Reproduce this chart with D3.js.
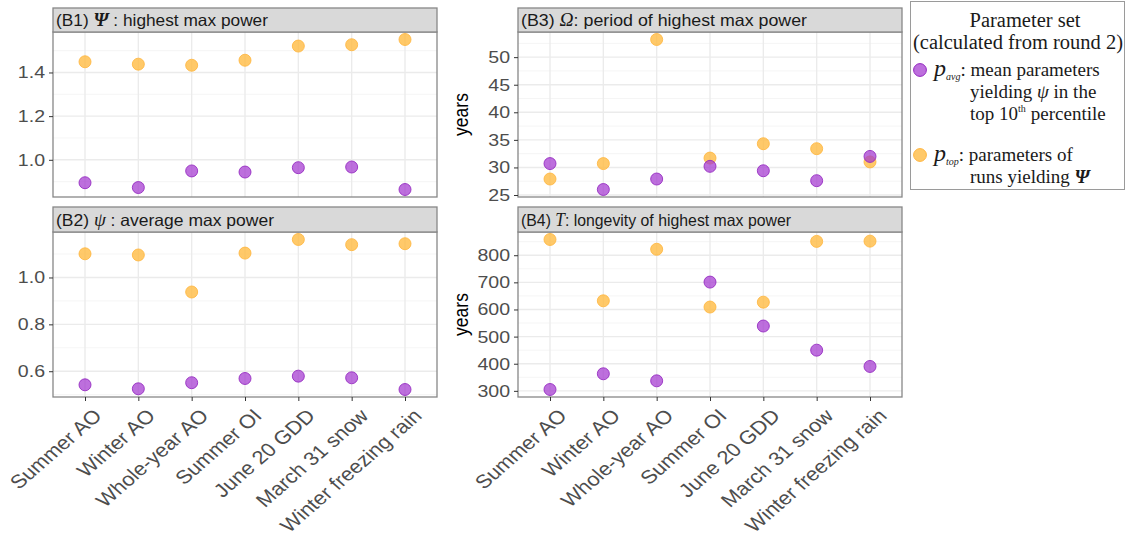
<!DOCTYPE html>
<html>
<head>
<meta charset="utf-8">
<script src="https://cdn.jsdelivr.net/npm/d3@7"></script>
<style>
  html, body { margin: 0; padding: 0; background: #fff; }
  svg { display: block; }
</style>
</head>
<body>
<svg id="chart" width="1126" height="542"></svg>
<script>
// Climate indices on the x axis
const categories = ["Summer AO", "Winter AO", "Whole-year AO", "Summer OI",
                    "June 20 GDD", "March 31 snow", "Winter freezing rain"];

// (B1) highest max power
const highestAvg = [0.895, 0.873, 0.949, 0.944, 0.964, 0.967, 0.864];
const highestTop = [1.449, 1.438, 1.433, 1.456, 1.521, 1.527, 1.551];
const highestTicks = [1.0, 1.2, 1.4];

// (B2) average max power
const averageAvg = [0.542, 0.525, 0.551, 0.569, 0.579, 0.572, 0.522];
const averageTop = [1.101, 1.096, 0.938, 1.104, 1.162, 1.140, 1.144];
const averageTicks = [0.6, 0.8, 1.0];

// (B3) period of highest max power (years)
const periodAvg = [30.7, 26.0, 27.9, 30.2, 29.4, 27.6, 32.0];
const periodTop = [27.9, 30.7, 53.2, 31.7, 34.3, 33.4, 31.0];
const periodTicks = [25, 30, 35, 40, 45, 50];

// (B4) longevity of highest max power (years)
const longevityAvg = [305, 363, 337, 701, 539, 450, 390];
const longevityTop = [858, 632, 822, 609, 627, 851, 852];
const longevityTicks = [300, 400, 500, 600, 700, 800];

const svg = d3.select("#chart");
const sans = "'Liberation Sans', Arial, Helvetica, sans-serif";
const serif = "'Liberation Serif', 'Times New Roman', serif";

const COL_AVG = { fill: "#a338d0", stroke: "#9328c0", op: 0.72 };
const COL_TOP = { fill: "#ffbb44", stroke: "#ffb640", op: 0.8 };
const BORDER = "#878787";
const STRETCH = 1.15; // wide axis lettering

const panels = [
  { id: "B1", sym: "\u03A8", symWeight: "bold", label: " : highest max power", stripLen: 212,
    avg: highestAvg, top: highestTop, ticks: highestTicks, fmt: d3.format(".1f"),
    x0: 53, x1: 437, stripTop: 8, stripH: 24, bottom: 197, xAxis: false, title: null },
  { id: "B2", sym: "\u03C8", symWeight: "normal", label: " : average max power", stripLen: 218,
    avg: averageAvg, top: averageTop, ticks: averageTicks, fmt: d3.format(".1f"),
    x0: 53, x1: 437, stripTop: 207, stripH: 25, bottom: 397, xAxis: true, title: null },
  { id: "B3", sym: "\u03A9", symWeight: "normal", label: ": period of highest max power", stripLen: 286,
    avg: periodAvg, top: periodTop, ticks: periodTicks, fmt: d3.format("d"),
    x0: 518, x1: 902, stripTop: 8, stripH: 24, bottom: 197, xAxis: false, title: "years" },
  { id: "B4", sym: "T", symWeight: "normal", label: ": longevity of highest max power", stripLen: 270,
    avg: longevityAvg, top: longevityTop, ticks: longevityTicks, fmt: d3.format("d"),
    x0: 518, x1: 902, stripTop: 207, stripH: 25, bottom: 397, xAxis: true, title: "years" }
];

panels.forEach(p => {
  const g = svg.append("g");
  const top = p.stripTop + p.stripH;

  const x = d3.scalePoint().domain(categories).range([p.x0, p.x1]).padding(0.6);

  // continuous scale with 5% expansion on each side
  const [lo, hi] = d3.extent(p.avg.concat(p.top));
  const pad = (hi - lo) * 0.05;
  const y = d3.scaleLinear().domain([lo - pad, hi + pad]).range([p.bottom, top]);

  g.append("rect").attr("x", p.x0).attr("y", top).attr("width", p.x1 - p.x0)
    .attr("height", p.bottom - top).attr("fill", "#fff");

  // minor grid lines (midpoints between major ticks)
  const step = p.ticks[1] - p.ticks[0];
  const minors = [];
  for (let v = p.ticks[0] - step / 2; v <= y.domain()[1]; v += step) {
    if (v >= y.domain()[0]) minors.push(v);
  }
  g.selectAll(".minor").data(minors).join("line")
    .attr("x1", p.x0).attr("x2", p.x1)
    .attr("y1", d => y(d)).attr("y2", d => y(d))
    .attr("stroke", "#f2f2f2").attr("stroke-width", 0.8);

  // major grid lines
  g.selectAll(".majory").data(p.ticks).join("line")
    .attr("x1", p.x0).attr("x2", p.x1)
    .attr("y1", d => y(d)).attr("y2", d => y(d))
    .attr("stroke", "#ebebeb").attr("stroke-width", 1.4);
  g.selectAll(".majorx").data(categories).join("line")
    .attr("x1", d => x(d)).attr("x2", d => x(d))
    .attr("y1", top).attr("y2", p.bottom)
    .attr("stroke", "#ebebeb").attr("stroke-width", 1.4);

  // points: top parameter set first, mean parameter set above it
  [[p.top, COL_TOP], [p.avg, COL_AVG]].forEach(([vals, col]) => {
    g.selectAll(null).data(vals).join("circle")
      .attr("cx", (d, i) => x(categories[i]))
      .attr("cy", d => y(d))
      .attr("r", 6)
      .attr("fill", col.fill).attr("fill-opacity", col.op)
      .attr("stroke", col.stroke).attr("stroke-opacity", 0.85).attr("stroke-width", 1);
  });

  // panel border
  g.append("rect").attr("x", p.x0).attr("y", top).attr("width", p.x1 - p.x0)
    .attr("height", p.bottom - top).attr("fill", "none")
    .attr("stroke", BORDER).attr("stroke-width", 1.3);

  // strip
  g.append("rect").attr("x", p.x0).attr("y", p.stripTop).attr("width", p.x1 - p.x0)
    .attr("height", p.stripH).attr("fill", "#d9d9d9")
    .attr("stroke", BORDER).attr("stroke-width", 1.3);
  const st = g.append("text").attr("x", p.x0 + 3).attr("y", p.stripTop + p.stripH / 2 + 6)
    .attr("font-family", sans).attr("font-size", 16.5).attr("fill", "#1a1a1a")
    .attr("textLength", p.stripLen).attr("lengthAdjust", "spacingAndGlyphs");
  st.append("tspan").text(`(${p.id}) `);
  st.append("tspan").attr("font-family", serif).attr("font-style", "italic")
    .attr("font-weight", p.symWeight).attr("font-size", 18).text(p.sym);
  st.append("tspan").text(p.label);

  // y axis
  const yAxis = d3.axisLeft(y).tickValues(p.ticks).tickFormat(p.fmt).tickSize(4).tickPadding(3);
  const ya = g.append("g").attr("transform", `translate(${p.x0},0)`).call(yAxis);
  ya.select(".domain").remove();
  ya.selectAll(".tick line").attr("stroke", "#333").attr("stroke-width", 1);
  ya.selectAll(".tick text").attr("font-family", sans).attr("font-size", 17).attr("fill", "#4d4d4d")
    .attr("x", 0).attr("transform", `translate(-8,0) scale(${STRETCH},1)`);

  if (p.title) {
    g.append("text")
      .attr("transform", `translate(${p.x0 - 50},${(top + p.bottom) / 2}) scale(${STRETCH},1) rotate(-90)`)
      .attr("text-anchor", "middle")
      .attr("font-family", sans).attr("font-size", 17.5).attr("fill", "#000")
      .text(p.title);
  }

  // x axis on bottom row
  if (p.xAxis) {
    const xAxis = d3.axisBottom(x).tickSize(4).tickPadding(2);
    const xa = g.append("g").attr("transform", `translate(0,${p.bottom})`).call(xAxis);
    xa.select(".domain").remove();
    xa.selectAll(".tick line").attr("stroke", "#333").attr("stroke-width", 1);
    xa.selectAll(".tick text")
      .attr("font-family", sans).attr("font-size", 19).attr("fill", "#4d4d4d")
      .attr("text-anchor", "end")
      .attr("transform", `translate(6,10) scale(${STRETCH},1) rotate(-45)`)
      .attr("dy", "0.75em").attr("y", 0).attr("x", 0);
  }
});

// legend
const lg = svg.append("g");
lg.append("rect").attr("x", 910.5).attr("y", 1.5).attr("width", 214).attr("height", 188)
  .attr("fill", "#fff").attr("stroke", "#9a9a9a").attr("stroke-width", 1);

const lt = (x, yy, size, anchor) => lg.append("text").attr("x", x).attr("y", yy)
  .attr("font-family", serif).attr("font-size", size).attr("fill", "#1a1a1a")
  .attr("text-anchor", anchor || "start");

lt(1025, 27, 20.5, "middle").text("Parameter set");
lt(1018, 49, 20.5, "middle").text("(calculated from round 2)");

const legendItems = [
  { col: COL_AVG, cy: 70, sub: "avg",
    lines: [[": mean parameters"],
            ["yielding ", ["\u03C8", "italic", "normal"], " in the"],
            ["top 10", ["th", "sup"], ["percentile", "after-sup"]]] },
  { col: COL_TOP, cy: 155, sub: "top",
    lines: [[": parameters of"],
            ["runs yielding ", ["\u03A8", "italic", "bold"]]] }
];

legendItems.forEach(item => {
  lg.append("circle").attr("cx", 920).attr("cy", item.cy).attr("r", 6.4)
    .attr("fill", item.col.fill).attr("fill-opacity", item.col.op)
    .attr("stroke", item.col.stroke).attr("stroke-width", 1);
  item.lines.forEach((parts, li) => {
    const base = item.cy + 6 + li * 22;
    let t;
    if (li === 0) {
      t = lt(934, base, 19);
      t.append("tspan").attr("font-style", "italic").attr("font-size", 24).text("p");
      t.append("tspan").attr("font-style", "italic").attr("font-size", 10).attr("dy", 4).text(item.sub);
      t.append("tspan").attr("dy", -4).text(parts[0]);
      return;
    }
    t = lt(970, base, 19);
    parts.forEach(part => {
      if (typeof part === "string") {
        t.append("tspan").text(part);
      } else if (part[1] === "sup") {
        t.append("tspan").attr("font-size", 10).attr("dy", -8).text(part[0]);
      } else if (part[1] === "after-sup") {
        t.append("tspan").attr("dy", 8).attr("dx", 5).text(part[0]);
      } else {
        t.append("tspan").attr("font-style", part[1]).attr("font-weight", part[2]).text(part[0]);
      }
    });
  });
});
</script>
</body>
</html>
